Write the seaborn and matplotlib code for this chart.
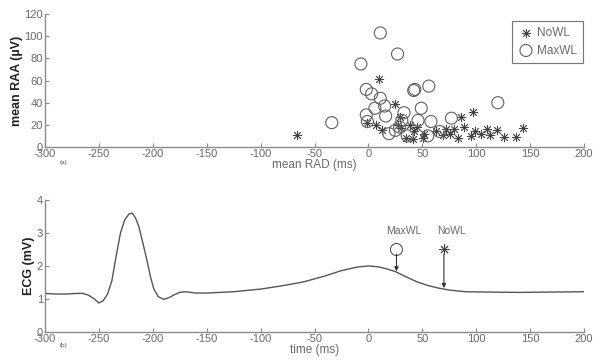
import numpy as np
import pandas as pd
import matplotlib
matplotlib.use("Agg")
import matplotlib.pyplot as plt
import seaborn as sns

# (a) mean RAD / RAA per lead
nowl_rad = [-66, 10, 25, 97, 86, 143, 137, -1, 7, 29, 30, 39, 42, 41, 35, 52, 51,
            63, 69, 76, 79, 83, 89, 95, 99, 104, 110, 113, 119, 126, 72, 27, 45, 13]
nowl_raa = [11, 61, 39, 32, 27, 17, 9, 22, 20, 27, 17, 20, 14, 7, 8, 12, 8,
            14, 11, 12, 16, 8, 18, 10, 14, 12, 16, 11, 15, 9, 16, 20, 18, 15]
maxwl_rad = [11, 27, -7, -2, 3, 43, 56, 120, -34, 11, 6, 15, 16, -2, -1, 33, 49,
             46, 58, 77, 19, 29, 36, 55, 66, 31, 25, 42]
maxwl_raa = [103, 84, 75, 52, 48, 52, 55, 40, 22, 44, 35, 37, 28, 29, 23, 31, 35,
             24, 23, 26, 12, 18, 10, 10, 14, 24, 15, 51]

# (b) averaged ECG beat
ecg_time = [-300, -290, -280, -270, -265, -260, -255, -250, -246, -242, -238, -234,
            -230, -226, -222, -219, -216, -213, -210, -206, -202, -199, -195, -190,
            -185, -180, -175, -170, -165, -160, -150, -125, -100, -80, -60, -40,
            -25, -10, 0, 8, 15, 25, 35, 45, 55, 65, 75, 90, 110, 140, 170, 200]
ecg_mv = [1.17, 1.15, 1.15, 1.17, 1.17, 1.12, 1.02, 0.88, 0.95, 1.15, 1.55, 2.3,
          3.0, 3.4, 3.58, 3.6, 3.45, 3.2, 2.8, 2.25, 1.65, 1.3, 1.07, 0.99,
          1.04, 1.13, 1.2, 1.22, 1.2, 1.18, 1.18, 1.22, 1.3, 1.4, 1.52, 1.7,
          1.86, 1.97, 2.0, 1.98, 1.93, 1.83, 1.67, 1.52, 1.41, 1.33, 1.27, 1.22,
          1.21, 1.2, 1.21, 1.22]

# mean RAD used as the annotated time points
marker_names = ["MaxWL", "NoWL"]
marker_time = [26, 70]
marker_ecg = [1.84, 1.33]

sns.set_style("ticks")
plt.rcParams["font.family"] = ["Liberation Sans", "DejaVu Sans"]
plt.rcParams["axes.unicode_minus"] = False
grey = "#555555"
lblgrey = "#6a6a6a"
axgrey = "#8a8a8a"
star = (8, 2, 0)

fig = plt.figure(figsize=(5.93, 3.6), dpi=100)
ax1 = fig.add_axes([0.0759, 0.5917, 0.909, 0.369])
ax2 = fig.add_axes([0.0759, 0.0778, 0.909, 0.3667])

sns.scatterplot(x=nowl_rad, y=nowl_raa, marker=star, s=38, color="#444444",
                linewidth=0.6, label="NoWL", ax=ax1)
sns.scatterplot(x=maxwl_rad, y=maxwl_raa, marker="o", s=75, facecolors="none",
                edgecolor="#606060", linewidth=0.8, label="MaxWL", ax=ax1)
ax1.set_xlim(-300, 200)
ax1.set_ylim(0, 120)
ax1.set_yticks(range(0, 121, 20))
ax1.set_xlabel("mean RAD (ms)", fontsize=8.5, color=lblgrey, labelpad=0)
ax1.set_ylabel("mean RAA (µV)", fontsize=9, fontweight="bold", color="#222222",
               labelpad=1)
leg = ax1.legend(loc="upper right", fontsize=8.5, frameon=True, fancybox=False,
                 edgecolor=grey, handletextpad=0.3, borderpad=0.55,
                 handlelength=1.2, labelspacing=0.45, borderaxespad=0,
                 bbox_to_anchor=(0.998, 0.95))
leg.get_frame().set_linewidth(0.8)
for t in leg.get_texts():
    t.set_color(lblgrey)

df = pd.DataFrame({"time": ecg_time, "ecg": ecg_mv})
sns.lineplot(data=df, x="time", y="ecg", color=grey, linewidth=1.0, ax=ax2)
ax2.set_xlim(-300, 200)
ax2.set_ylim(0, 4)
ax2.set_yticks(range(0, 5))
ax2.set_xlabel("time (ms)", fontsize=8.5, color=lblgrey, labelpad=0)
ax2.set_ylabel("ECG (mV)", fontsize=9, fontweight="bold", color="#222222",
               labelpad=1)

# marker symbols with arrows pointing at the mean RAD on the beat
for name, t, y, m in zip(marker_names, marker_time, marker_ecg, ["o", star]):
    ax2.scatter([t], [2.5], marker=m, s=75 if m == "o" else 45,
                facecolors="none" if m == "o" else "#444444",
                edgecolors="#444444", linewidths=0.7)
    ax2.annotate("", xy=(t, y), xytext=(t, 2.36),
                 arrowprops=dict(arrowstyle="-|>", color="#333333", lw=0.8,
                                 mutation_scale=6, shrinkA=0, shrinkB=0))
    ax2.text(t + 7, 2.92, name, fontsize=7.5, color=lblgrey, ha="center", va="bottom")

for ax in (ax1, ax2):
    sns.despine(ax=ax)
    ax.spines["left"].set_color(axgrey)
    ax.spines["bottom"].set_color(axgrey)
    ax.spines["left"].set_linewidth(1.0)
    ax.spines["bottom"].set_linewidth(1.0)
    ax.set_xticks(range(-300, 201, 50))
    ax.tick_params(direction="in", length=3, width=0.8, color=axgrey,
                   labelsize=8, labelcolor=lblgrey, pad=1.5)

fig.text(63 / 593, 1 - 163 / 360, "(a)", fontsize=4.5, color=grey, ha="center", va="center")
fig.text(63 / 593, 1 - 346 / 360, "(b)", fontsize=4.5, color=grey, ha="center", va="center")

fig.savefig("out.png", dpi=100)
